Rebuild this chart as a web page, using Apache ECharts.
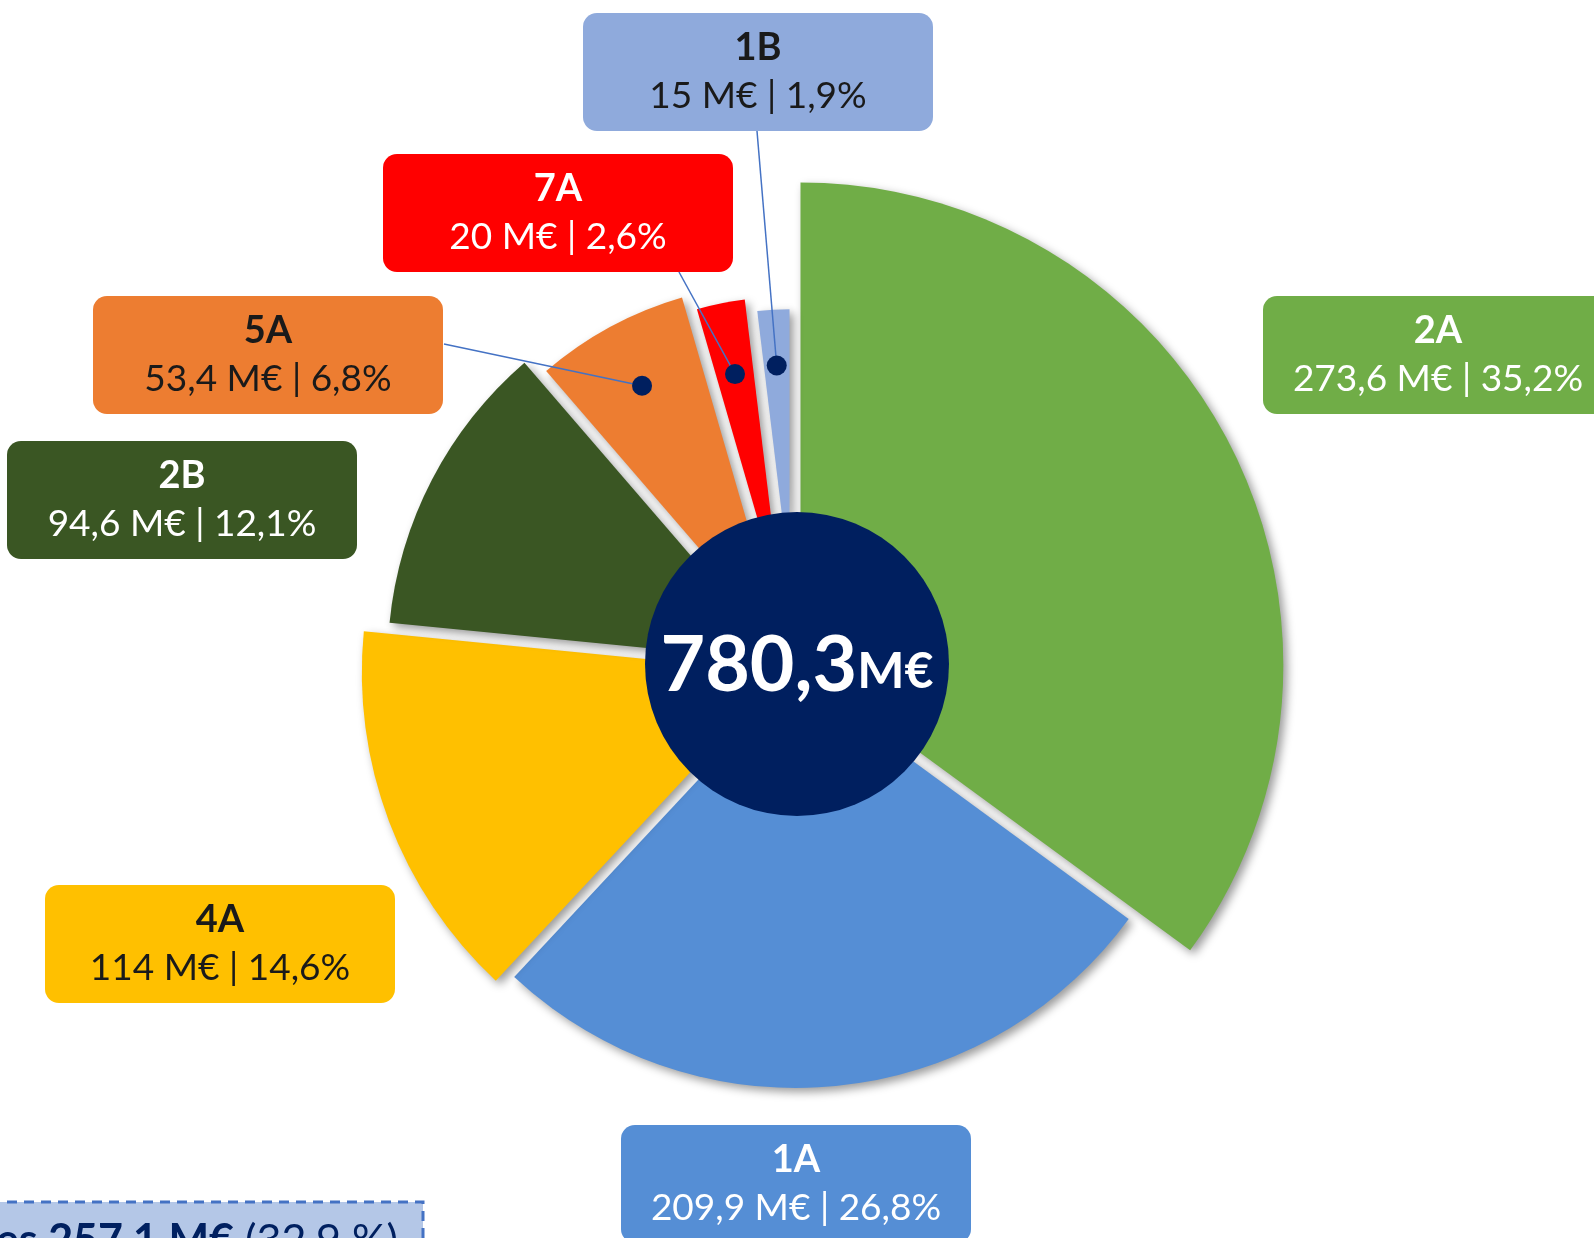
<!DOCTYPE html>
<html>
<head>
<meta charset="utf-8">
<style>
  html, body { margin: 0; padding: 0; background: #fff; }
  #chart { width: 1594px; height: 1238px; }
</style>
<script src="https://cdn.jsdelivr.net/npm/echarts@6/dist/echarts.min.js"></script>
</head>
<body>
<div id="chart"></div>
<script>
// data, clockwise from 12 o'clock
const names = ['2A', '1A', '4A', '2B', '5A', '7A', '1B'];
const values = [273.6, 209.9, 114, 94.6, 53.4, 20, 15];
const percents = [35.2, 26.8, 14.6, 12.1, 6.8, 2.6, 1.9];
const colors = ['#70AD47', '#558ED5', '#FFC000', '#3A5623', '#ED7D31', '#FF0000', '#8FAADC'];
const textColors = ['#fff', '#fff', '#1a1a1a', '#fff', '#1a1a1a', '#fff', '#1a1a1a'];
const total = 780.3;
const footLabel = 'es 257,1 M€';
const footShare = '(32,9 %)';

// layout
const cx = 795, cy = 668;
const gapHalf = 5.5;
const outerR = [489, 420, 434, 409, 388, 372, 359];
const labelPos = [[1438, 355], [796, 1184], [220, 944], [182, 500], [268, 355], [558, 213], [758, 72]];
const leaderIdx = [4, 5, 6];
const leaderR = { 4: 321, 5: 300, 6: 303 };
const leaderEnd = { 4: [444, 344], 5: [679, 272], 6: [757, 131] };

const fmt = (v) => String(v).replace('.', ',');
const sum = values.reduce((a, b) => a + b, 0);
const midValue = (i) => values.slice(0, i).reduce((a, b) => a + b, 0) + values[i] / 2;
const toAngle = (v) => v / sum * 2 * Math.PI;

const chart = echarts.init(document.getElementById('chart'));

// one pie per slice: own radius, and pushed out along its bisector
// so every pair of neighbours is split by the same gap width
const sliceSeries = names.map((n, i) => {
  const a = toAngle(midValue(i));
  const half = toAngle(values[i]) / 2;
  const s = gapHalf / Math.sin(half);
  return {
    type: 'pie',
    center: [cx + s * Math.sin(a), cy - s * Math.cos(a)],
    radius: [0, outerR[i] - s],
    startAngle: 90,
    clockwise: true,
    silent: true,
    avoidLabelOverlap: false,
    z: 2,
    data: names.map((name, j) => j === i ? {
      value: values[j],
      name,
      itemStyle: {
        color: colors[j],
        shadowBlur: 10,
        shadowOffsetX: 4,
        shadowOffsetY: 4,
        shadowColor: 'rgba(0,0,0,0.4)'
      },
      label: {
        show: true,
        position: 'outside',
        formatter: () => `{n|${name}}\n{v|${fmt(values[j])} M€ | ${fmt(percents[j])}%}`,
        backgroundColor: colors[j],
        borderRadius: 14,
        padding: [11, 0],
        width: 350,
        align: 'center',
        rich: {
          n: { fontFamily: 'Lato', fontWeight: 'bold', fontSize: 38, lineHeight: 48, color: textColors[j], align: 'center' },
          v: { fontFamily: 'Lato', fontSize: 37, lineHeight: 48, color: textColors[j], align: 'center' }
        }
      },
      labelLine: { show: false }
    } : {
      value: values[j],
      name,
      itemStyle: { color: 'rgba(0,0,0,0)', borderWidth: 0, shadowBlur: 0 },
      label: { show: false },
      labelLine: { show: false }
    }),
    labelLayout: (params) => {
      if (params.dataIndex !== i) return;
      return { x: labelPos[i][0], y: labelPos[i][1], align: 'center', verticalAlign: 'middle' };
    }
  };
});

chart.setOption({
  animation: false,
  polar: { center: [cx, cy], radius: outerR[0] },
  angleAxis: { type: 'value', min: 0, max: sum, startAngle: 90, clockwise: true, show: false },
  radiusAxis: { type: 'value', min: 0, max: outerR[0], show: false },
  series: [
    ...sliceSeries,
    {
      type: 'pie',
      center: [797, 664],
      radius: [0, 152],
      silent: true,
      z: 5,
      itemStyle: { color: '#001F5F' },
      labelLine: { show: false },
      label: {
        show: true,
        position: 'center',
        formatter: () => `{a|${fmt(total)}}{b|M€}`,
        rich: {
          a: { fontFamily: 'Lato', fontWeight: 'bold', fontSize: 77, lineHeight: 82, color: '#fff', verticalAlign: 'bottom' },
          b: { fontFamily: 'Lato', fontWeight: 'bold', fontSize: 50, lineHeight: 54, color: '#fff', verticalAlign: 'bottom', padding: [0, 0, 8, 0] }
        }
      },
      data: [{ value: total, name: 'Total' }]
    },
    {
      // leader lines with a dot inside the small slices
      type: 'custom',
      coordinateSystem: 'polar',
      silent: true,
      z: 10,
      data: leaderIdx.map((i) => [leaderR[i], midValue(i), i]),
      renderItem: (params, api) => {
        const i = api.value(2);
        const p = api.coord([api.value(0), api.value(1)]);
        const e = leaderEnd[i];
        return {
          type: 'group',
          children: [
            { type: 'line', shape: { x1: p[0], y1: p[1], x2: e[0], y2: e[1] }, style: { stroke: '#4472C4', lineWidth: 1.5 } },
            { type: 'circle', shape: { cx: p[0], cy: p[1], r: 10 }, style: { fill: '#001F5F' } }
          ]
        };
      }
    }
  ],
  graphic: [
    {
      type: 'rect',
      shape: { x: -10, y: 1202, width: 433, height: 60 },
      style: { fill: '#B4C7E7', stroke: '#4472C4', lineWidth: 3, lineDash: [10, 7] }
    },
    {
      type: 'text',
      x: 398,
      y: 1220,
      style: {
        text: `{b|${footLabel}}{r| ${footShare}}`,
        align: 'right',
        verticalAlign: 'top',
        rich: {
          b: { fontFamily: 'Lato', fontWeight: 'bold', fontSize: 43, fill: '#002060' },
          r: { fontFamily: 'Lato', fontSize: 43, fill: '#002060' }
        }
      }
    }
  ]
});
</script>
</body>
</html>
